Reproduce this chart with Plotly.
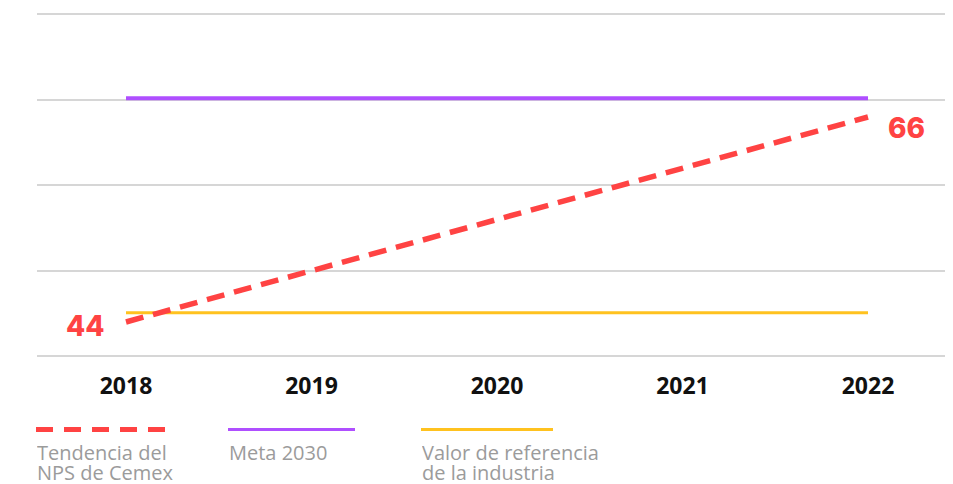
import plotly.graph_objects as go

# NPS series and reference levels
years = [2018, 2022]
nps_trend = [44, 66]
meta_2030 = [68, 68]
industry_ref = [45, 45]
year_ticks = [2018, 2019, 2020, 2021, 2022]

RED = "#FF4343"
PURPLE = "#AF4FFF"
YELLOW = "#FFC21F"
GRID = "#D6D6D6"
LEGEND_TXT = "#9B9B9B"

W, H = 953, 484
ML, MR, MT, MB = 37, 8, 8, 122
PW, PH = W - ML - MR, H - MT - MB

# axis scaling
px_per_year = 185.5
x0 = 2018 - (126 - ML) / px_per_year
x1 = x0 + PW / px_per_year
px_per_unit = 9.318
y_top = 44 + (322 - MT) / px_per_unit
y_bot = 44 - (MT + PH - 322) / px_per_unit
grid_step = 85.5 / px_per_unit
grid_vals = [44 - 34 / px_per_unit + k * grid_step for k in range(5)]


def paper_x(px):
    return (px - ML) / PW


def paper_y(py):
    return (MT + PH - py) / PH


fig = go.Figure()
fig.add_trace(go.Scatter(x=years, y=meta_2030, mode="lines",
                         line=dict(color=PURPLE, width=4), hoverinfo="skip"))
fig.add_trace(go.Scatter(x=years, y=industry_ref, mode="lines",
                         line=dict(color=YELLOW, width=3), hoverinfo="skip"))
fig.add_trace(go.Scatter(x=years, y=nps_trend, mode="lines",
                         line=dict(color=RED, width=5.5, dash="18px,10px"),
                         hoverinfo="skip"))

# end-point value labels
num_font = dict(family="Inter", size=28, color=RED, weight=800)
fig.add_annotation(x=years[0], y=nps_trend[0], text=str(nps_trend[0]),
                   showarrow=False, xshift=-41, yshift=-4, font=num_font)
fig.add_annotation(x=years[1], y=nps_trend[1], text=str(nps_trend[1]),
                   showarrow=False, xshift=38, yshift=-11, font=num_font)

# legend: sample line above a two-line caption
legend_items = [
    (36, 166, RED, 5, "17px,11px", ["Tendencia del", "NPS de Cemex"]),
    (228, 355, PURPLE, 3, "solid", ["Meta 2030"]),
    (421, 553, YELLOW, 3, "solid", ["Valor de referencia", "de la industria"]),
]
for xa, xb, col, wd, dash, lines in legend_items:
    fig.add_shape(type="line", xref="paper", yref="paper",
                  x0=paper_x(xa), x1=paper_x(xb),
                  y0=paper_y(429.5), y1=paper_y(429.5),
                  line=dict(color=col, width=wd, dash=dash))
    for i, txt in enumerate(lines):
        fig.add_annotation(xref="paper", yref="paper",
                           x=paper_x(xa - 1), y=paper_y(452 + 20 * i),
                           xanchor="left", yanchor="middle", showarrow=False,
                           height=18, valign="middle",
                           text=txt,
                           font=dict(family="Open Sans", size=20, color=LEGEND_TXT))

fig.update_layout(
    width=W, height=H,
    margin=dict(l=ML, r=MR, t=MT, b=MB),
    paper_bgcolor="white", plot_bgcolor="white",
    showlegend=False,
    xaxis=dict(range=[x0, x1], tickvals=year_ticks,
               ticktext=[str(y) for y in year_ticks],
               showgrid=False, zeroline=False, showline=False,
               ticks="outside", ticklen=3, tickcolor="rgba(0,0,0,0)",
               tickfont=dict(family="Open Sans", size=23, color="#111111",
                             weight=700)),
    yaxis=dict(range=[y_bot, y_top], tickvals=grid_vals, showticklabels=False,
               showgrid=True, gridcolor=GRID, gridwidth=1.5,
               zeroline=False, showline=False),
)

fig.write_html("out.html")
